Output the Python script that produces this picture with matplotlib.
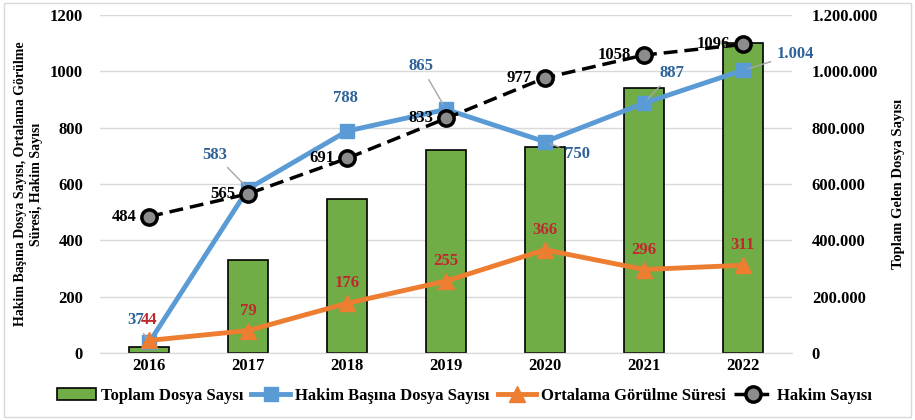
import matplotlib.pyplot as plt
from matplotlib.ticker import FuncFormatter

plt.rcParams['font.family'] = ['Liberation Serif', 'DejaVu Serif']
plt.rcParams['font.weight'] = 'bold'
plt.rcParams['axes.labelweight'] = 'bold'

years = ['2016', '2017', '2018', '2019', '2020', '2021', '2022']
toplam_dosya = [21000, 330000, 547000, 721000, 732000, 940000, 1101000]
hakim_basina = [37, 583, 788, 865, 750, 887, 1004]
ortalama_sure = [44, 79, 176, 255, 366, 296, 311]
hakim_sayisi = [484, 565, 691, 833, 977, 1058, 1096]

blue_lbl = ['37', '583', '788', '865', '750', '887', '1.004']
blue_off = [(-14, 22), (-33, 34), (-2, 33), (-25, 43), (32, -12), (28, 30), (52, 16)]
blue_leader = [True, True, False, True, True, True, True]

x = list(range(len(years)))

fig = plt.figure(figsize=(9.15, 4.2), dpi=100)
ax2 = fig.add_axes([0.109, 0.16, 0.757, 0.804])
ax1 = ax2.twinx()
ax2.yaxis.tick_right()
ax2.yaxis.set_label_position('right')
ax1.yaxis.tick_left()
ax1.yaxis.set_label_position('left')
ax1.set_zorder(ax2.get_zorder() + 1)
ax1.patch.set_visible(False)

bars = ax2.bar(x, toplam_dosya, width=0.4, color='#70AD47', edgecolor='black',
               linewidth=1.2, label='Toplam Dosya Saysı', zorder=2)
ax2.set_ylim(0, 1200000)
ax2.set_yticks(range(0, 1200001, 200000))
ax2.yaxis.set_major_formatter(FuncFormatter(lambda v, p: f'{int(v):,}'.replace(',', '.')))
ax2.grid(axis='y', color='#D9D9D9', lw=1, zorder=0)
ax2.set_axisbelow(True)

l1, = ax1.plot(x, hakim_basina, color='#5B9BD5', lw=3.5, marker='s', ms=10,
               label='Hakim Başına Dosya Sayısı', zorder=3)
l2, = ax1.plot(x, ortalama_sure, color='#ED7D31', lw=3.5, marker='^', ms=11,
               label='Ortalama Görülme Süresi', zorder=4)
l3, = ax1.plot(x, hakim_sayisi, color='black', lw=2.5, ls=(0, (4, 2)), marker='o', ms=11,
               mfc='#8C8C8C', mec='black', mew=2.5, label='Hakim Sayısı', zorder=5)
ax1.set_ylim(0, 1200)
ax1.set_yticks(range(0, 1201, 200))
ax1.set_xlim(-0.5, len(years) - 0.5)
ax1.set_xticks(x)
ax1.set_xticklabels(years)

for a in (ax1, ax2):
    for s in ('top', 'left', 'right'):
        a.spines[s].set_visible(False)
    a.spines['bottom'].set_color('#D9D9D9')
    a.tick_params(length=0, labelsize=12)
ax1.tick_params(axis='y', pad=12)
ax2.tick_params(axis='y', pad=14)
ax1.tick_params(axis='x', pad=13)

for i, v in enumerate(hakim_sayisi):
    ax1.annotate(str(v), (i, v), xytext=(-13, 0), textcoords='offset pixels',
                 ha='right', va='center', fontsize=12, color='black', zorder=6)

for i, v in enumerate(ortalama_sure):
    ax1.annotate(str(v), (i, v), xytext=(0, 20), textcoords='offset pixels',
                 ha='center', va='center', fontsize=12, color='#C0282D', zorder=6)

for i, v in enumerate(hakim_basina):
    arrow = dict(arrowstyle='-', color='#A6A6A6', lw=1, shrinkA=2, shrinkB=4) if blue_leader[i] else None
    ax1.annotate(blue_lbl[i], (i, v), xytext=blue_off[i], textcoords='offset pixels',
                 ha='center', va='center', fontsize=12, color='#2E6398',
                 arrowprops=arrow, zorder=6)

ax1.set_ylabel('Hakim Başına Dosya Sayısı, Ortalama Görülme\nSüresi, Hakim Sayısı',
               fontsize=10, labelpad=5, linespacing=1.3)
ax2.set_ylabel('Toplam Gelen Dosya Sayısı', fontsize=10.5, labelpad=10)

fig.legend([bars, l1, l2, l3], [h.get_label() for h in (bars, l1, l2, l3)],
           loc='center', bbox_to_anchor=(0.508, 0.058), ncol=4, frameon=False,
           fontsize=12, handlelength=2.3, columnspacing=0.5, handletextpad=0.3)

fig.patches.append(plt.Rectangle((0.004, 0.008), 0.992, 0.986, transform=fig.transFigure,
                                 fill=False, edgecolor='#D9D9D9', lw=1))

fig.savefig('out.png', dpi=100)
